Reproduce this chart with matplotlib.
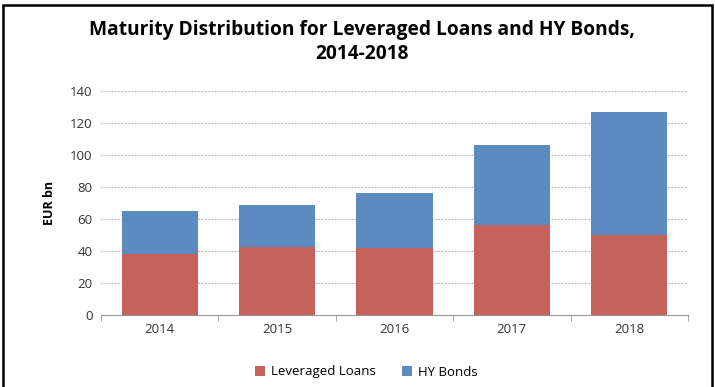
import numpy as np
import matplotlib.pyplot as plt
from matplotlib.patches import Rectangle

years = ['2014', '2015', '2016', '2017', '2018']
leveraged_loans = [38, 42.5, 42, 56, 50]
hy_bonds = [27, 26, 34, 50, 77]

plt.rcParams['font.family'] = ['Open Sans', 'DejaVu Sans']

fig = plt.figure(figsize=(7.15, 3.87), dpi=100)
ax = fig.add_axes([101 / 715, 1 - 315 / 387, 587 / 715, 224 / 387])

x = np.arange(len(years))
ax.bar(x, leveraged_loans, width=0.65, color='#C5625B', label='Leveraged Loans', zorder=3)
ax.bar(x, hy_bonds, width=0.65, bottom=leveraged_loans, color='#5B8BC0', label='HY Bonds', zorder=3)

ax.set_xlim(-0.5, len(years) - 0.5)
ax.set_ylim(0, 140)
ax.set_yticks(range(0, 141, 20))
ax.set_xticks(x)
ax.set_xticklabels(years)
ax.tick_params(axis='both', length=0, labelsize=9.5, colors='#333333', pad=6)
ax.set_xticks(np.arange(-0.5, len(years)), minor=True)
ax.tick_params(axis='x', which='minor', length=4, color='#999999')

ax.grid(axis='y', linestyle=(0, (1.5, 1.5)), color='#aaaaaa', linewidth=0.8, zorder=0)
for s in ['left', 'right', 'top']:
    ax.spines[s].set_visible(False)
ax.spines['bottom'].set_color('#999999')

ax.set_ylabel('EUR bn', fontsize=9, fontweight='bold', labelpad=10)

fig.text(0.506, 1 - 42 / 387, 'Maturity Distribution for Leveraged Loans and HY Bonds,\n2014-2018',
         ha='center', va='center', fontsize=13.8, fontweight='bold', linespacing=1.3)

fig.legend(loc='center', bbox_to_anchor=(0.512, 1 - 372 / 387), ncol=2, frameon=False,
           fontsize=9.5, handlelength=0.8, handleheight=0.8, columnspacing=2.0, handletextpad=0.4)

fig.patches.append(Rectangle((3 / 715, -0.02), 709 / 715, 1 - 5 / 387 + 0.02,
                             transform=fig.transFigure, fill=False, edgecolor='black',
                             linewidth=1.8))

fig.savefig('out.png', dpi=100)
